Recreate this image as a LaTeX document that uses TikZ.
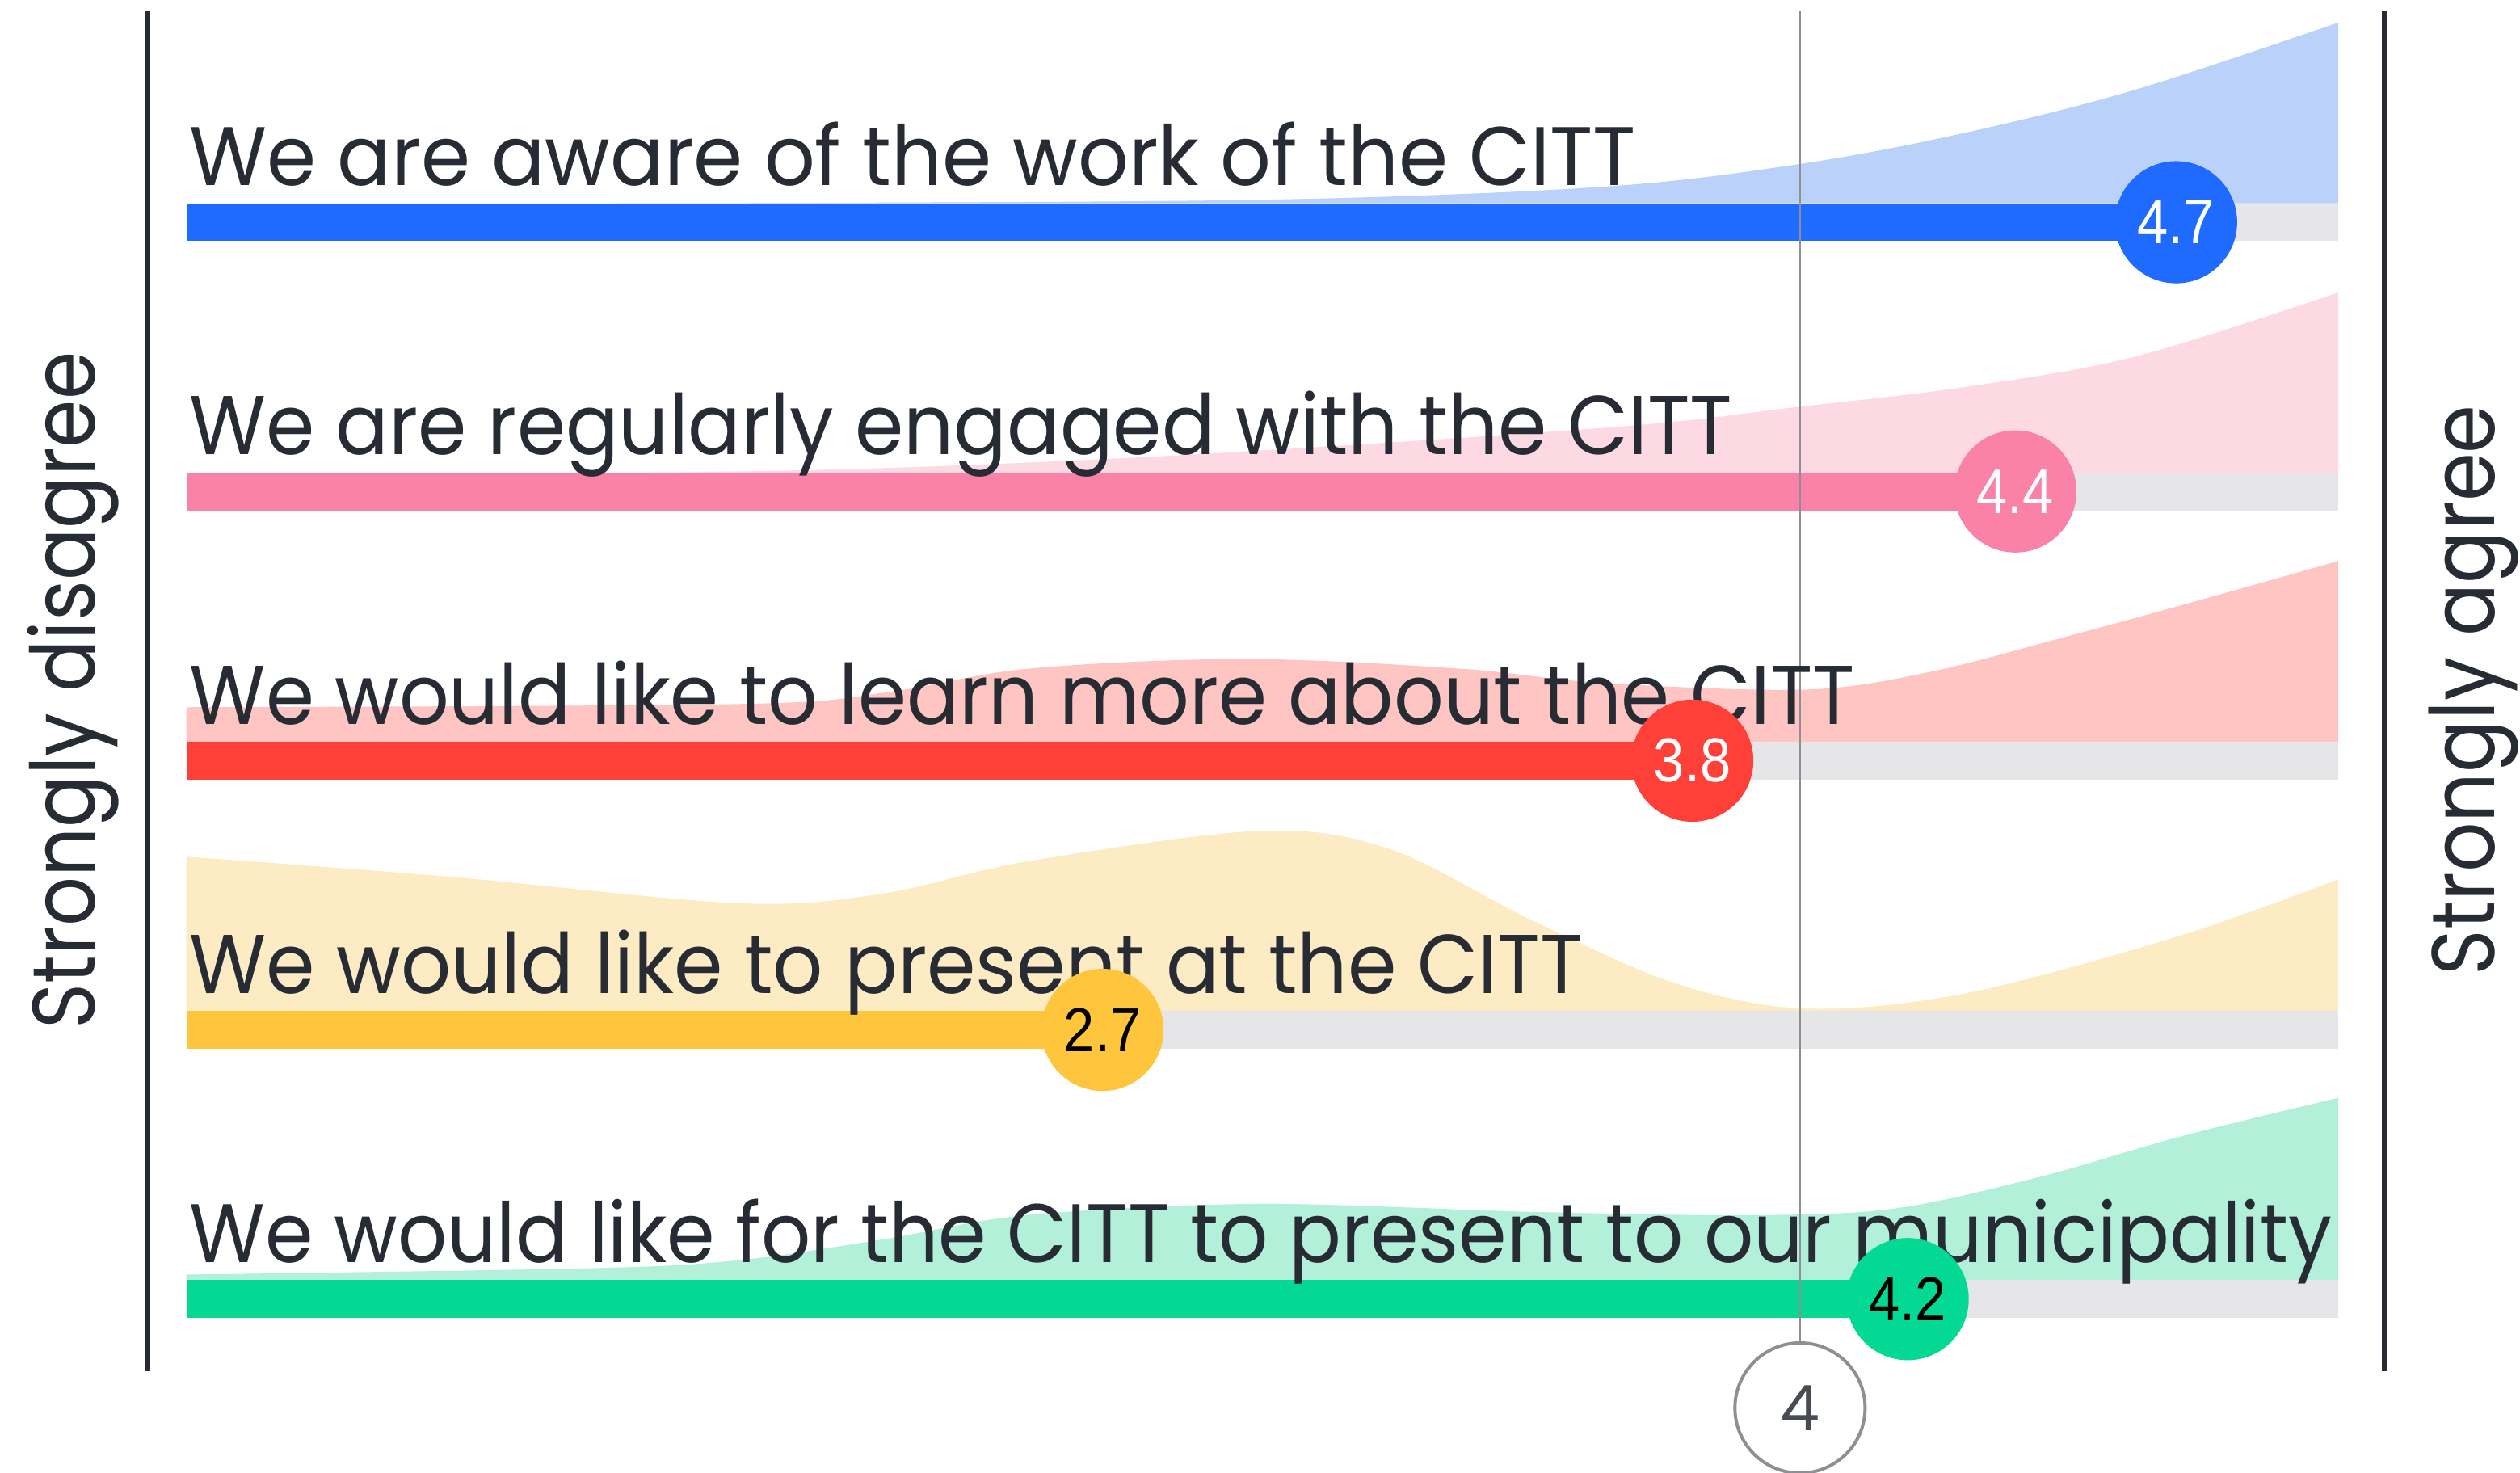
\documentclass[tikz,border=0pt]{standalone}
\usepackage{fontspec}
\usepackage{graphicx}
\setmainfont{Poppins}
\newfontfamily\numfont{Liberation Sans}
\definecolor{ink}{HTML}{272B33}
\definecolor{blueBar}{HTML}{1F6BFF}
\definecolor{blueArea}{HTML}{BAD1FA}
\definecolor{pinkBar}{HTML}{FA82A8}
\definecolor{pinkArea}{HTML}{FDD9E4}
\definecolor{redBar}{HTML}{FF4039}
\definecolor{redArea}{HTML}{FEC5C3}
\definecolor{yelBar}{HTML}{FEC53D}
\definecolor{yelArea}{HTML}{FDEBC3}
\definecolor{grnBar}{HTML}{04D993}
\definecolor{grnArea}{HTML}{B2F0DA}
\definecolor{trackGray}{HTML}{E6E6E8}
\definecolor{refGray}{HTML}{8E8E93}
\tikzset{
  lbl/.style={inner sep=0pt, outer sep=0pt, text=ink, font=\fontsize{14pt}{16pt}\selectfont},
  valdot/.style={circle, inner sep=0pt, minimum size=7.6mm, font=\numfont},
  axisline/.style={draw=ink, line width=0.35mm},
  refline/.style={draw=refGray, line width=0.12mm},
  refdot/.style={circle, draw=refGray, line width=0.2mm, fill=white, inner sep=0pt, minimum size=8.1mm, text=ink!85},
  curve/.style={smooth, tension=0.55}
}
\begin{document}
\begin{tikzpicture}[x=0.1mm, y=-0.1mm]
\useasboundingbox (0,0) rectangle (1568,916);
\fill[white] (0,0) rectangle (1568,916);

% density areas
\fill[blueArea] (116,126.5) -- plot[curve] coordinates {(116,126.5) (500,126.2) (800,124) (1000,116) (1120,102) (1221,83) (1328,56) (1455,14)} -- (1455,126.5) -- cycle;
\fill[pinkArea] (116,294) -- plot[curve] coordinates {(116,294) (450,293.5) (700,285) (1000,266) (1120,253) (1221,241) (1328,222) (1455,182)} -- (1455,294) -- cycle;
\fill[redArea] (116,461.5) -- plot[curve] coordinates {(116,440) (460,438) (550,431) (640,416) (774,410) (908,416) (998,425) (1124,429) (1201,418) (1286,396) (1370,373) (1455,349)} -- (1455,461.5) -- cycle;
\fill[yelArea] (116,629) -- plot[curve] coordinates {(116,533) (280,545.5) (460,562) (549,556) (639,536) (783,517) (864,528) (954,573) (1043,612) (1124,627.5) (1223,618) (1357,582) (1455,547)} -- (1455,629) -- cycle;
\fill[grnArea] (116,796.5) -- plot[curve] coordinates {(116,793) (370,789) (460,784) (550,771) (639,756) (783,749) (954,754) (1088,756) (1178,752) (1268,732.5) (1357,707) (1455,683)} -- (1455,796.5) -- cycle;

% tracks
\foreach \t in {126.5,294,461.5,629,796.5}
  \fill[trackGray] (116,\t) rectangle (1455,\t+23.5);

% bars
\fill[blueBar] (116,126.5) rectangle (1354,150);
\fill[pinkBar] (116,294) rectangle (1254,317.5);
\fill[redBar] (116,461.5) rectangle (1053,485);
\fill[yelBar] (116,629) rectangle (686,652.5);
\fill[grnBar] (116,796.5) rectangle (1187,820);

% reference line at 4
\node[refdot] (ref4) at (1120,876) {\resizebox{!}{2.8mm}{4}};
\coordinate (reftop) at (1120,7);
\draw[refline] (reftop) -- (ref4);

% statement labels
\node[lbl, anchor=base west] (q1) at (118,115.5) {\resizebox{90mm}{3.95mm}{We are aware of the work of the CITT}};
\node[lbl, anchor=base west] (q2) at (118,283) {\resizebox{96mm}{3.95mm}{We are regularly engaged with the CITT}};
\node[lbl, anchor=base west] (q3) at (118,450.5) {\resizebox{103.6mm}{3.95mm}{We would like to learn more about the CITT}};
\node[lbl, anchor=base west] (q4) at (118,618) {\resizebox{86.7mm}{3.95mm}{We would like to present at the CITT}};
\node[lbl, anchor=base west] (q5) at (118,785.5) {\resizebox{133.3mm}{3.95mm}{We would like for the CITT to present to our municipality}};

% value dots
\node[valdot, fill=blueBar, text=white] (v1) at (1354,138.25) {\resizebox{4.8mm}{2.7mm}{4.7}};
\node[valdot, fill=pinkBar, text=white] (v2) at (1254,305.75) {\resizebox{4.8mm}{2.7mm}{4.4}};
\node[valdot, fill=redBar, text=white] (v3) at (1053,473.25) {\resizebox{4.8mm}{2.7mm}{3.8}};
\node[valdot, fill=yelBar, text=black] (v4) at (686,640.75) {\resizebox{4.8mm}{2.7mm}{2.7}};
\node[valdot, fill=grnBar, text=black] (v5) at (1187,808.25) {\resizebox{4.8mm}{2.7mm}{4.2}};

% axes
\coordinate (ltop) at (92,7);
\coordinate (lbot) at (92,853);
\coordinate (rtop) at (1484,7);
\coordinate (rbot) at (1484,853);
\draw[axisline] (ltop) -- (lbot);
\draw[axisline] (rtop) -- (rbot);

% side labels
\node[lbl, rotate=90, anchor=base west] (sd) at (59,640) {\resizebox{42.1mm}{4.2mm}{Strongly disagree}};
\node[lbl, rotate=90, anchor=base west] (sa) at (1552,607) {\resizebox{35.5mm}{4.1mm}{Strongly agree}};
\end{tikzpicture}
\end{document}
